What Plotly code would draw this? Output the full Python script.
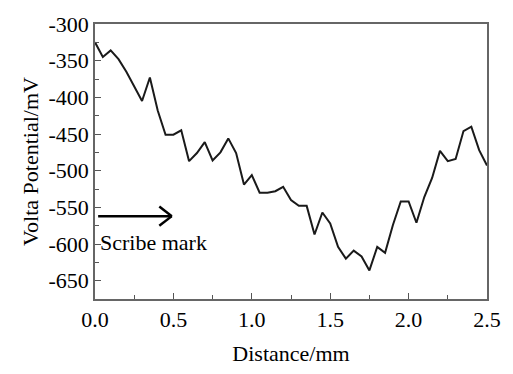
import plotly.graph_objects as go

distance = [0.00, 0.05, 0.10, 0.15, 0.20, 0.25, 0.30, 0.35, 0.40, 0.45,
            0.50, 0.55, 0.60, 0.65, 0.70, 0.75, 0.80, 0.85, 0.90, 0.95,
            1.00, 1.05, 1.10, 1.15, 1.20, 1.25, 1.30, 1.35, 1.40, 1.45,
            1.50, 1.55, 1.60, 1.65, 1.70, 1.75, 1.80, 1.85, 1.90, 1.95,
            2.00, 2.05, 2.10, 2.15, 2.20, 2.25, 2.30, 2.35, 2.40, 2.45, 2.50]
potential = [-325, -345, -336, -348, -365, -386, -405, -373, -418, -451,
             -451, -445, -487, -476, -461, -486, -475, -456, -476, -519,
             -506, -530, -530, -528, -522, -540, -548, -548, -587, -557,
             -572, -604, -620, -609, -617, -636, -604, -612, -574, -542,
             -542, -571, -536, -510, -473, -487, -484, -446, -440, -472, -493]

x_ticks = [0.0, 0.5, 1.0, 1.5, 2.0, 2.5]
y_ticks = [-300, -350, -400, -450, -500, -550, -600, -650]

font_family = "Liberation Serif"

fig = go.Figure()
fig.add_trace(go.Scatter(x=distance, y=potential, mode="lines",
                         line=dict(color="#1a1a1a", width=2), showlegend=False))

# arrow (shaft + open chevron head)
ax0, ax1, ay = 0.02, 0.49, -562
fig.add_shape(type="line", xref="x", yref="y", x0=ax0, x1=ax1, y0=ay, y1=ay,
              line=dict(color="black", width=2.5))
for dy in (-13, 13):
    fig.add_shape(type="line", xref="x", yref="y", x0=ax1 - 0.08, y0=ay + dy,
                  x1=ax1, y1=ay, line=dict(color="black", width=2.5))

fig.add_annotation(x=0.02, y=-598, xref="x", yref="y", text="Scribe mark",
                   showarrow=False, xanchor="left", yanchor="middle",
                   font=dict(family=font_family, size=22, color="black"))

fig.update_xaxes(range=[0, 2.5], tickmode="array", tickvals=x_ticks,
                 ticktext=[f"{v:.1f}" for v in x_ticks],
                 showline=True, mirror=True, linecolor="#666666", linewidth=1.5,
                 ticks="inside", ticklen=6, tickwidth=1.2, tickcolor="#555555",
                 showgrid=False, zeroline=False,
                 minor=dict(ticks="inside", ticklen=4, dtick=0.25, tickcolor="#555555"),
                 title_text="Distance/mm", title_standoff=14)
fig.update_yaxes(range=[-675, -300], tickmode="array", tickvals=y_ticks,
                 ticktext=[str(v) for v in y_ticks],
                 showline=True, mirror=True, linecolor="#666666", linewidth=1.5,
                 ticks="inside", ticklen=6, tickwidth=1.2, tickcolor="#555555",
                 showgrid=False, zeroline=False,
                 minor=dict(ticks="inside", ticklen=4, dtick=25, tickcolor="#555555"),
                 title_text="Volta Potential/mV", title_standoff=4)

fig.update_layout(width=513, height=374, margin=dict(l=95, r=22, t=16, b=65),
                  plot_bgcolor="white", paper_bgcolor="white",
                  font=dict(family=font_family, color="black", size=22),
                  xaxis=dict(tickfont=dict(family=font_family, size=22, color="black"),
                             title_font=dict(family=font_family, size=22, color="black")),
                  yaxis=dict(tickfont=dict(family=font_family, size=22, color="black"),
                             title_font=dict(family=font_family, size=22, color="black")))

fig.write_html("out.html")
